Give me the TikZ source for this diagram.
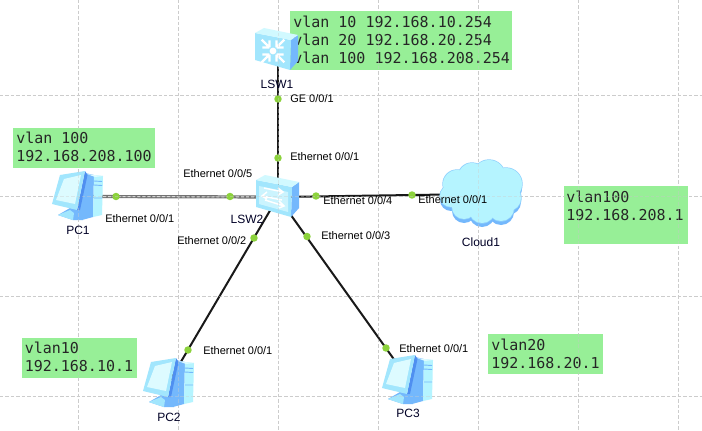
\documentclass[tikz,border=0pt]{standalone}
\usepackage{fontspec}
\setmainfont{Liberation Sans}
\newfontfamily\vlanmono{DejaVu Sans Mono}
\usetikzlibrary{calc}
\definecolor{gridc}{HTML}{CCCCCC}
\definecolor{vgreen}{HTML}{90EE90}
\definecolor{dotc}{HTML}{8CD23C}
\definecolor{iconlight}{HTML}{B5F4FF}
\definecolor{iconpale}{HTML}{DDFBFF}
\definecolor{iconmid}{HTML}{A2E6FD}
\definecolor{iconblue}{HTML}{74B8FC}
\definecolor{icondeep}{HTML}{4F8FF0}
\newcommand{\gridlines}{%
  \foreach \gx in {78,178,...,678} {\draw (\gx,0) -- (\gx,431);}
  \foreach \gy in {96,196,296,396} {\draw (0,\gy) -- (702,\gy);}
}
\newcommand{\pcicon}[2]{%
  \begin{scope}[shift={(#1,#2)}]
    % base
    \fill[iconblue] (-20,20) -- (-8,13) -- (4,15) -- (5,25) -- (-5,25) -- cycle;
    \fill[iconmid] (-20,20) -- (-8,15) -- (-4,18) -- (-5,25) -- cycle;
    % tower
    \fill[iconblue] (7,-22) -- (16,-20) -- (15,22) -- (4,25) -- (0,14) -- cycle;
    \fill[iconlight] (16,-20) -- (25,-19) -- (24,20) -- (15,22) -- cycle;
    \fill[iconpale] (9,-21) -- (16,-20) -- (25,-19) -- (17,-18) -- cycle;
    \draw[iconblue,line width=.7] (16,-14) -- (24,-13.5) (16,-10) -- (24,-9.5) (16,3) -- (24,3);
    % monitor
    \fill[icondeep] (7,-24) -- (9.5,-20) -- (2,15) -- (-1,15) -- cycle;
    \fill[iconmid] (-18,-20) -- (7,-24) -- (-1,15) -- (-26,9) -- cycle;
    \fill[iconpale] (-14,-16) -- (3,-20) -- (-3,9) -- (-22,5) -- cycle;
  \end{scope}}
\newcommand{\switchicon}[3]{% x y detail
  \begin{scope}[shift={(#1,#2)}]
    \fill[iconblue] (14,-9) -- (21,-14) -- (21,12) -- (13,21) -- cycle;
    \fill[iconmid] (-22,-16) -- (14,-9) -- (13,21) -- (-22,11) -- cycle;
    \fill[iconpale!70!iconlight] (-22,-16) -- (-13,-21) -- (21,-14) -- (14,-9) -- cycle;
    #3
  \end{scope}}
\tikzset{
  x=.75pt, y=-.75pt,
  gridline/.style={draw=gridc,line width=.75pt,dash pattern=on 2.6pt off 1.5pt},
  vbox/.style={fill=vgreen,fill opacity=.93,draw=none,anchor=north west,inner sep=0pt},
  vtext/.style={anchor=west,align=left,inner sep=0pt,font=\vlanmono\fontsize{11.25}{13.5}\selectfont,text=black!85},
  lbl/.style={anchor=west,inner sep=0pt,font=\fontsize{8.25}{10}\selectfont,text=black},
  devname/.style={inner sep=0pt,font=\fontsize{9}{10}\selectfont,text=black!85!blue},
  link/.style={draw=black!90,line width=1.5pt},
  greylink/.style={draw=black!55,line width=2.4pt},
  port/.style={circle,fill=dotc,minimum size=5.6pt,inner sep=0pt,draw=none},
  anchorpt/.style={inner sep=0pt,minimum size=0pt},
}
\begin{document}
\begin{tikzpicture}
\useasboundingbox (0,0) rectangle (702,431);
\fill[white] (0,0) rectangle (702,431);
\begin{scope}[gridline]\gridlines\end{scope}

% green boxes
\node[vbox,minimum width=167pt,minimum height=44.25pt] (b1) at (289.5,11) {};
\node[vbox,minimum width=106.5pt,minimum height=30pt] (b2) at (13,128) {};
\node[vbox,minimum width=93pt,minimum height=43.5pt] (b3) at (564,186) {};
\node[vbox,minimum width=86.25pt,minimum height=30pt] (b4) at (22,338) {};
\node[vbox,minimum width=86.25pt,minimum height=30pt] (b5) at (488,334) {};
\node[vtext] (t1) at (293,39.5) {vlan 10 192.168.10.254\\vlan 20 192.168.20.254\\vlan 100 192.168.208.254};
\node[vtext] (t2) at (16,147) {vlan 100\\192.168.208.100};
\node[vtext] (t3) at (566,205.5) {vlan100\\192.168.208.1};
\node[vtext] (t4) at (24.5,357) {vlan10\\192.168.10.1};
\node[vtext] (t5) at (491,354) {vlan20\\192.168.20.1};

% device anchors
\node[anchorpt] (lsw1) at (278,50) {};
\node[anchorpt] (lsw2) at (278,197) {};
\node[anchorpt] (pc1) at (78,196.5) {};
\node[anchorpt] (pc2) at (169,382) {};
\node[anchorpt] (pc3) at (408,379) {};
\node[anchorpt] (cloud) at (480,194) {};

% links
\draw[link] (lsw1) -- (lsw2);
\draw[greylink] (pc1) -- (lsw2);
\draw[draw=white!85!black,line width=.75pt,dash pattern=on 2.2pt off 1.5pt] (pc1) -- (lsw2);
\draw[link] (lsw2.center) -- (cloud.center);
\draw[link] (lsw2) -- (pc2);
\draw[link] (lsw2) -- (pc3);

% ports
\node[port] (p1) at (278,99) {};
\node[port] (p2) at (278,158) {};
\node[port] (p3) at (116,196.5) {};
\node[port] (p4) at (230,196.5) {};
\node[port] (p5) at (316,196) {};
\node[port] (p6) at (412,195) {};
\node[port] (p7) at (254,238) {};
\node[port] (p8) at (307,236.5) {};
\node[port] (p9) at (188,350) {};
\node[port] (p10) at (386,348) {};

% cloud
\begin{scope}
  \foreach \cx/\cy/\cr in {457/184/14,472/177/14,489/176/16,506/184/16,508/198/13,501/208/13,482/210/13,464/207/12,451/196/11,480/193/22}
    {\fill[iconblue] (\cx,\cy+4) circle[radius=\cr];}
  \foreach \cx/\cy/\cr in {457/184/14,472/177/14,489/176/16,506/184/16,508/198/13,501/208/13,482/210/13,464/207/12,451/196/11,480/193/22}
    {\fill[iconblue!60!iconlight] (\cx,\cy) circle[radius=\cr+.7];}
  \foreach \cx/\cy/\cr in {457/184/14,472/177/14,489/176/16,506/184/16,508/198/13,501/208/13,482/210/13,464/207/12,451/196/11,480/193/22}
    {\fill[iconlight] (\cx,\cy) circle[radius=\cr];}
\end{scope}

% switches
\switchicon{277}{49}{%
  \fill[white] (-4,2) circle[radius=3.4];
  \foreach \ang in {45,135,225,315}
    {\draw[white,line width=1.7pt,rotate around={\ang:(-4,2)}] (1,2) -- (12,2) (1,2) -- (6,-3) (1,2) -- (6,7);}
}
\switchicon{278}{196}{%
  \fill[iconpale,opacity=.7] (-19,-10) -- (10,-4) -- (10,16) -- (-19,8) -- cycle;
  \draw[white,line width=1.1pt] (-14,-8) -- (5,-4) (0,-8) -- (5,-4) -- (0,-1)
     (-16,0) -- (4,4) (-11,-4) -- (-16,0) -- (-11,3)
     (-13,4) -- (6,10) (1,5) -- (6,10) -- (1,12);
}

% PCs
\pcicon{78}{195}
\pcicon{169}{382}
\pcicon{408}{379}

% grid faintly showing through
\begin{scope}[gridline,opacity=.4]\gridlines\end{scope}

% labels
\node[devname] (n1) at (277,84) {LSW1};
\node[devname] (n2) at (247,219.5) {LSW2};
\node[devname] (n3) at (78,230) {PC1};
\node[devname] (n4) at (169,417) {PC2};
\node[devname] (n5) at (408,413) {PC3};
\node[devname] (n6) at (481,242) {Cloud1};
\node[lbl] (l1) at (290,99) {GE 0/0/1};
\node[lbl] (l2) at (290,157) {Ethernet 0/0/1};
\node[lbl] (l3) at (183,174) {Ethernet 0/0/5};
\node[lbl] (l4) at (105,219) {Ethernet 0/0/1};
\node[lbl] (l5) at (177,241) {Ethernet 0/0/2};
\node[lbl] (l6) at (323,201) {Ethernet 0/0/4};
\node[lbl] (l7) at (418,200) {Ethernet 0/0/1};
\node[lbl] (l8) at (321,236) {Ethernet 0/0/3};
\node[lbl] (l9) at (203,351) {Ethernet 0/0/1};
\node[lbl] (l10) at (399,349) {Ethernet 0/0/1};
\end{tikzpicture}
\end{document}
